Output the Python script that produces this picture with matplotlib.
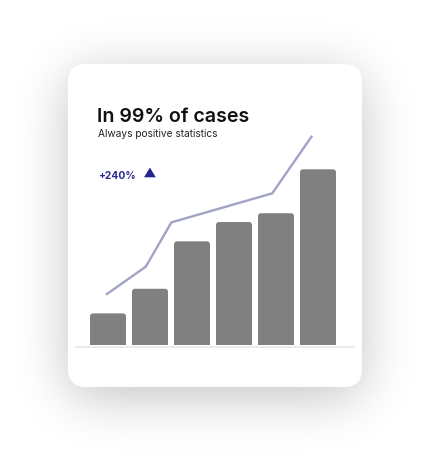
import numpy as np
import matplotlib
matplotlib.use("Agg")
import matplotlib.pyplot as plt
from matplotlib.patches import FancyBboxPatch, Polygon

# ---- data ----
bar_x = [0, 1, 2, 3, 4, 5]
bar_values = [18, 32, 59, 70, 75, 100]
line_x = [-0.05, 0.90, 1.51, 3.91, 4.86]
line_y = [28.6, 44.6, 69.8, 86.3, 119.1]
title = "In 99% of cases"
subtitle = "Always positive statistics"
badge = "+240%"

W, H = 430, 459
fig = plt.figure(figsize=(W / 100, H / 100), dpi=100)
fig.patch.set_facecolor("white")

# background axes in pixel coordinates
bg = fig.add_axes([0, 0, 1, 1])
bg.set_xlim(0, W)
bg.set_ylim(H, 0)
bg.axis("off")

# soft shadow
card_l, card_t, card_r, card_b, rad = 68, 64, 362, 387, 18
yy, xx = np.mgrid[0:H, 0:W] + 0.5
off = 10
cx0, cx1 = card_l + rad, card_r - rad
cy0, cy1 = card_t + off + rad, card_b + off - rad
dx = np.maximum(np.maximum(cx0 - xx, xx - cx1), 0)
dy = np.maximum(np.maximum(cy0 - yy, yy - cy1), 0)
mask = (np.hypot(dx, dy) <= rad).astype(float)
sig = 26
k = np.arange(-3 * sig, 3 * sig + 1)
g = np.exp(-k ** 2 / (2 * sig ** 2))
g /= g.sum()
pad = 3 * sig
mp = np.pad(mask, pad)
bl = np.apply_along_axis(lambda r: np.convolve(r, g, mode="same"), 1, mp)
bl = np.apply_along_axis(lambda c: np.convolve(c, g, mode="same"), 0, bl)
bl = bl[pad:-pad, pad:-pad]
rgba = np.zeros((H, W, 4))
rgba[..., 3] = bl * 0.24
bg.imshow(rgba, extent=(0, W, H, 0), zorder=0, interpolation="bilinear")

card = FancyBboxPatch((card_l, card_t), card_r - card_l, card_b - card_t,
                      boxstyle=f"round,pad=0,rounding_size={rad}",
                      fc="white", ec="none", zorder=1)
bg.add_patch(card)

# baseline
bg.plot([75, 355], [346.6, 346.6], color="#e8e8e8", lw=1.2, zorder=2,
        solid_capstyle="butt")

# texts
fam = ["Inter", "DejaVu Sans"]
bg.text(97.2, 122, title, fontsize=14.1, fontweight="semibold", family=fam,
        color="#111111", va="baseline", ha="left", zorder=3)
bg.text(98.0, 137.3, subtitle, fontsize=7.3, family=fam, color="#222222",
        va="baseline", ha="left", zorder=3)
bg.text(98.5, 179, badge, fontsize=7.4, fontweight="bold", family=fam,
        color="#2c2c8c", va="baseline", ha="left", zorder=3)
bg.add_patch(Polygon([(144, 177.3), (155.8, 177.3), (149.9, 167.6)],
                     closed=True, fc="#24248e", ec="none", zorder=3))

# chart axes
top_px, bot_px, left_px, right_px = 120, 345, 75, 355
px_per_val = 1.757
ax = fig.add_axes([left_px / W, (H - bot_px) / H,
                   (right_px - left_px) / W, (bot_px - top_px) / H])
ax.set_xlim((left_px - 108) / 42, (right_px - 108) / 42)
ax.set_ylim(0, (bot_px - top_px) / px_per_val)
ax.axis("off")
ax.patch.set_alpha(0)

bars = ax.bar(bar_x, bar_values, width=36 / 42, color="#808080", zorder=2)
# rounded tops
ppx = (ax.transData.transform((1, 0)) - ax.transData.transform((0, 0)))[0]
ppy = (ax.transData.transform((0, 1)) - ax.transData.transform((0, 0)))[1]
r_px = 3.2
for b in bars:
    x0, w, h = b.get_x(), b.get_width(), b.get_height()
    b.set_height(h - 2 * r_px / ppy)
    p = FancyBboxPatch((x0, 0), w, h,
                       boxstyle=f"round,pad=0,rounding_size={r_px / ppx}",
                       mutation_aspect=ppx / ppy,
                       fc="#808080", ec="none", zorder=2)
    ax.add_patch(p)

ax.plot(line_x, line_y, color="#a0a3c6", lw=1.7, zorder=3,
        solid_joinstyle="miter", solid_capstyle="butt")

fig.savefig("out.png", dpi=100, facecolor="white")
